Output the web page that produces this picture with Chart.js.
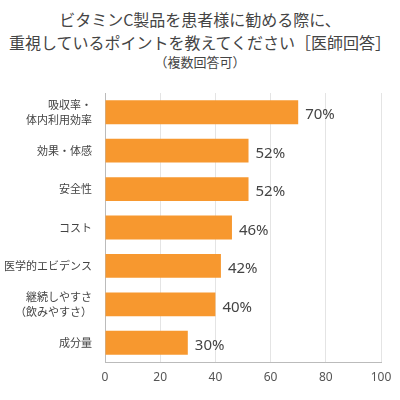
<!DOCTYPE html>
<html><head><meta charset="utf-8">
<script src="https://cdn.jsdelivr.net/npm/chart.js@4"></script>
<style>
body{margin:0;background:#fff;font-family:"Noto Sans CJK JP",sans-serif;}
#wrap{position:relative;width:400px;height:400px;}
#t{position:absolute;top:8px;left:0;width:400px;text-align:center;color:#444;font-size:16px;line-height:23px;}
#t small{display:block;font-size:13px;line-height:16px;}
canvas{position:absolute;top:0;left:0;}
</style></head>
<body><div id="wrap">
<div id="t">ビタミンC製品を患者様に勧める際に、<br>重視しているポイントを教えてください［医師回答］<small>（複数回答可）</small></div>
<canvas id="c" width="400" height="400"></canvas>
</div>
<script>
// data
const categories = [['吸収率・','体内利用効率'],'効果・体感','安全性','コスト','医学的エビデンス',['継続しやすさ','（飲みやすさ）'],'成分量'];
const values = [70, 52, 52, 46, 42, 40, 30];
const xTicks = [0, 20, 40, 60, 80, 100];

// draw "NN%" to the right of each bar
const valueLabels = {
  id: 'valueLabels',
  afterDatasetsDraw(chart){
    const ctx = chart.ctx;
    ctx.save();
    ctx.font = '15px "Noto Sans", sans-serif';
    ctx.fillStyle = '#444';
    ctx.textBaseline = 'middle';
    chart.getDatasetMeta(0).data.forEach((bar, i) => {
      ctx.fillText(values[i] + '%', bar.x + 7, bar.y + 3);
    });
    ctx.restore();
  }
};

new Chart(document.getElementById('c'), {
  type: 'bar',
  data: { labels: categories, datasets: [{ data: values, backgroundColor: '#F7982F', barPercentage: 0.62, categoryPercentage: 1 }] },
  options: {
    indexAxis: 'y', responsive: false, animation: false,
    layout: { padding: { top: 93, right: 19, left: 0, bottom: 0 } },
    plugins: { legend: { display: false }, tooltip: { enabled: false } },
    scales: {
      x: {
        min: 0, max: 100,
        afterBuildTicks(ax){ ax.ticks = xTicks.map(v => ({ value: v })); },
        afterFit(ax){ ax.height = 38; },
        grid: { color: '#e4e4e4', borderDash: [2, 2], drawTicks: false },
        border: { color: '#bbb' },
        ticks: { color: '#555', padding: 8, font: { size: 12, family: '"Noto Sans", sans-serif' } }
      },
      y: {
        afterFit(ax){ ax.width = 105; },
        grid: { display: false },
        border: { color: '#bbb' },
        ticks: { color: '#444', padding: 5, font: { size: 11, family: '"Noto Sans CJK JP"', lineHeight: 1.3 } }
      }
    }
  },
  plugins: [valueLabels]
});
</script></body></html>
